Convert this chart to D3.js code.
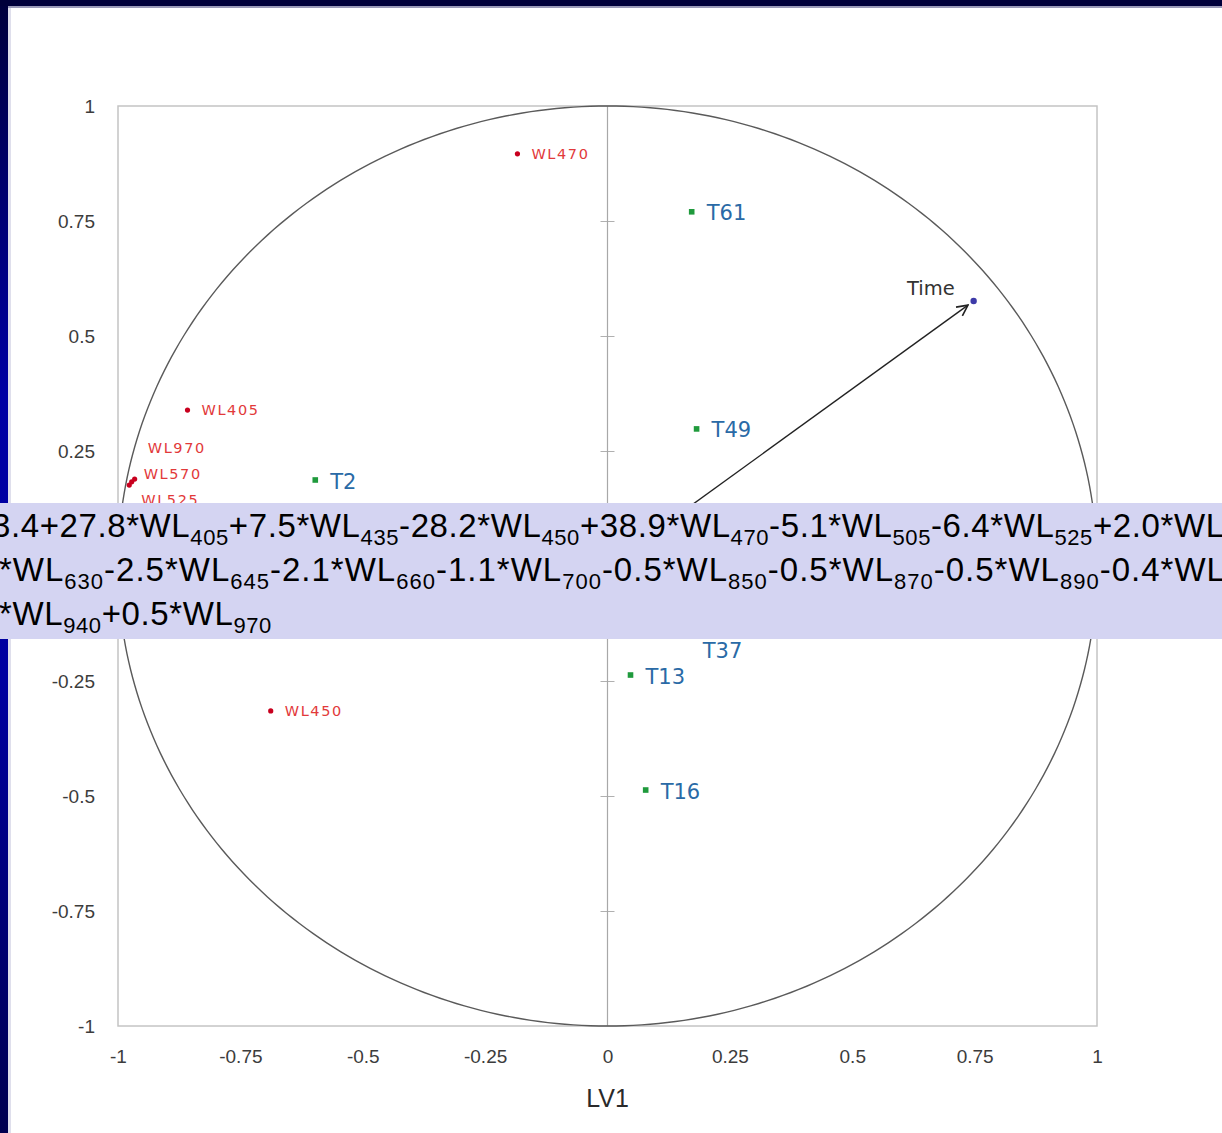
<!DOCTYPE html>
<html>
<head>
<meta charset="utf-8">
<script src="https://cdn.jsdelivr.net/npm/d3@7"></script>
<style>
  html, body { margin: 0; padding: 0; background: #fff; }
  svg { display: block; }
</style>
</head>
<body>
<svg id="chart" width="1222" height="1133"></svg>
<script>
// Loadings on LV1 / LV2 of the PLS model
const wlNames  = ["WL470", "WL405", "WL970", "WL570", "WL525", "WL450"];
const wlX      = [-0.184, -0.858, -0.972, -0.966, -0.977, -0.688];
const wlY      = [0.896, 0.339, 0.183, 0.189, 0.176, -0.315];

// Sample scores
const tNames   = ["T61", "T49", "T2", "T37", "T13", "T16"];
const tX       = [0.172, 0.182, -0.597, 0.170, 0.047, 0.078];
const tY       = [0.770, 0.298, 0.187, -0.130, -0.237, -0.487];

// Response variable
const respName = ["Time"];
const respX    = [0.748];
const respY    = [0.576];

const tickValues = [-1, -0.75, -0.5, -0.25, 0, 0.25, 0.5, 0.75, 1];
const xTitle = "LV1";

// Regression equation (banner)
const eqLines = [
  [["3.4+27.8*WL", "405"], ["+7.5*WL", "435"], ["-28.2*WL", "450"], ["+38.9*WL", "470"], ["-5.1*WL", "505"], ["-6.4*WL", "525"], ["+2.0*WL", ""]],
  [["*WL", "630"], ["-2.5*WL", "645"], ["-2.1*WL", "660"], ["-1.1*WL", "700"], ["-0.5*WL", "850"], ["-0.5*WL", "870"], ["-0.5*WL", "890"], ["-0.4*WL", ""]],
  [["*WL", "940"], ["+0.5*WL", "970"]]
];

const svg = d3.select("#chart");
const W = 1222, H = 1133;

// Slide frame: gradient bar on the left, dark band on top
const defs = svg.append("defs");
const grad = defs.append("linearGradient").attr("id", "sideGrad")
  .attr("x1", 0).attr("y1", 0).attr("x2", 0).attr("y2", 1);
grad.append("stop").attr("offset", "0%").attr("stop-color", "#00003c");
grad.append("stop").attr("offset", "35%").attr("stop-color", "#0000a4");
grad.append("stop").attr("offset", "60%").attr("stop-color", "#0000a0");
grad.append("stop").attr("offset", "100%").attr("stop-color", "#000050");

svg.append("rect").attr("width", W).attr("height", H).attr("fill", "#fff");
svg.append("rect").attr("x", 0).attr("y", 0).attr("width", 8).attr("height", H).attr("fill", "url(#sideGrad)");
svg.append("rect").attr("x", 8).attr("y", 0).attr("width", 3).attr("height", H).attr("fill", "#c9c9e0").attr("opacity", 0.6);
svg.append("rect").attr("x", 0).attr("y", 0).attr("width", W).attr("height", 6).attr("fill", "#00003a");
svg.append("rect").attr("x", 8).attr("y", 6).attr("width", W).attr("height", 2).attr("fill", "#9a9ab8");

const x = d3.scaleLinear().domain([-1, 1]).range([118, 1097]);
const y = d3.scaleLinear().domain([-1, 1]).range([1026, 106]);

const g = svg.append("g");

// plot frame
g.append("rect")
  .attr("x", x(-1)).attr("y", y(1))
  .attr("width", x(1) - x(-1)).attr("height", y(-1) - y(1))
  .attr("fill", "none").attr("stroke", "#c4c4c4").attr("stroke-width", 1.5);

// outer tick labels
const fmt = d => String(d);
const yAxis = g.append("g").attr("transform", `translate(${x(-1)},0)`)
  .call(d3.axisLeft(y).tickValues(tickValues.filter(v => v !== 0)).tickSize(0).tickPadding(23).tickFormat(fmt));
const xAxis = g.append("g").attr("transform", `translate(0,${y(-1)})`)
  .call(d3.axisBottom(x).tickValues(tickValues).tickSize(0).tickPadding(24).tickFormat(fmt));
[yAxis, xAxis].forEach(a => {
  a.select(".domain").remove();
  a.selectAll("text").attr("font-family", "Liberation Sans, Arial, sans-serif")
    .attr("font-size", 19).attr("fill", "#3c3c3c");
});

// axes through the origin with crossing ticks
const inner = tickValues.filter(v => v !== 0 && Math.abs(v) !== 1);
[d3.axisLeft, d3.axisRight].forEach(ax => {
  const a = g.append("g").attr("transform", `translate(${x(0)},0)`)
    .call(ax(y).tickValues(inner).tickSize(7).tickFormat(""));
  a.select(".domain").remove();
  a.selectAll("text").remove();
  a.selectAll("line").attr("stroke", "#b0b0b0");
});
[d3.axisTop, d3.axisBottom].forEach(ax => {
  const a = g.append("g").attr("transform", `translate(0,${y(0)})`)
    .call(ax(x).tickValues(inner).tickSize(7).tickFormat(""));
  a.select(".domain").remove();
  a.selectAll("text").remove();
  a.selectAll("line").attr("stroke", "#b0b0b0");
});
g.append("line").attr("x1", x(0)).attr("x2", x(0)).attr("y1", y(1)).attr("y2", y(-1))
  .attr("stroke", "#a8a8a8").attr("stroke-width", 1.2);
g.append("line").attr("x1", x(-1)).attr("x2", x(1)).attr("y1", y(0)).attr("y2", y(0))
  .attr("stroke", "#a8a8a8").attr("stroke-width", 1.2);

// correlation circle (unit circle in data space)
const angles = d3.range(0, 361, 1).map(a => a * Math.PI / 180);
g.append("path")
  .datum(angles)
  .attr("d", d3.line().x(a => x(Math.cos(a))).y(a => y(Math.sin(a))))
  .attr("fill", "none").attr("stroke", "#5a5a5a").attr("stroke-width", 1.4);

// arrow from origin to the response loading
defs.append("marker").attr("id", "arrowHead")
  .attr("viewBox", "0 0 12 12").attr("refX", 11).attr("refY", 6)
  .attr("markerWidth", 13).attr("markerHeight", 13).attr("markerUnits", "userSpaceOnUse")
  .attr("orient", "auto")
  .append("path").attr("d", "M1,1 L11,6 L1,11").attr("fill", "none")
  .attr("stroke", "#222").attr("stroke-width", 1.5);

const rx0 = x(0), ry0 = y(0), rx1 = x(respX[0]), ry1 = y(respY[0]);
const len = Math.hypot(rx1 - rx0, ry1 - ry0), shrink = 7;
g.append("line")
  .attr("x1", rx0).attr("y1", ry0)
  .attr("x2", rx1 - (rx1 - rx0) / len * shrink).attr("y2", ry1 - (ry1 - ry0) / len * shrink)
  .attr("stroke", "#222").attr("stroke-width", 1.4).attr("marker-end", "url(#arrowHead)");

// label placement around crowded markers
const wlLabelOffset = { WL970: [16, -34], WL570: [9, -5], WL525: [12, 15] };
const tLabelOffset  = { T37: [12, 25] };

// wavelength loadings
const wl = wlNames.map((n, i) => ({ n, x: wlX[i], y: wlY[i] }));
g.selectAll("circle.wl").data(wl).join("circle").attr("class", "wl")
  .attr("cx", d => x(d.x)).attr("cy", d => y(d.y)).attr("r", 2.6).attr("fill", "#c8001e");
g.selectAll("text.wl").data(wl).join("text").attr("class", "wl")
  .attr("x", d => x(d.x) + (wlLabelOffset[d.n] ? wlLabelOffset[d.n][0] : 14))
  .attr("y", d => y(d.y) + (wlLabelOffset[d.n] ? wlLabelOffset[d.n][1] : 0))
  .attr("dy", "0.36em")
  .attr("font-family", "DejaVu Sans, Verdana, sans-serif").attr("font-size", 14.5)
  .attr("letter-spacing", 1.6).attr("fill", "#e2393a")
  .text(d => d.n);

// sample scores
const ts = tNames.map((n, i) => ({ n, x: tX[i], y: tY[i] }));
g.selectAll("rect.t").data(ts).join("rect").attr("class", "t")
  .attr("x", d => x(d.x) - 2.8).attr("y", d => y(d.y) - 2.8).attr("width", 5.6).attr("height", 5.6)
  .attr("fill", "#1f9a3c");
g.selectAll("text.t").data(ts).join("text").attr("class", "t")
  .attr("x", d => x(d.x) + (tLabelOffset[d.n] ? tLabelOffset[d.n][0] : 15))
  .attr("y", d => y(d.y) + (tLabelOffset[d.n] ? tLabelOffset[d.n][1] : 1))
  .attr("dy", "0.36em")
  .attr("font-family", "DejaVu Sans, Verdana, sans-serif").attr("font-size", 21)
  .attr("fill", "#2a6aa6")
  .text(d => d.n);

// response loading
g.selectAll("circle.resp").data(respName).join("circle").attr("class", "resp")
  .attr("cx", (d, i) => x(respX[i])).attr("cy", (d, i) => y(respY[i])).attr("r", 3.2).attr("fill", "#3d3aa8");
g.selectAll("text.resp").data(respName).join("text").attr("class", "resp")
  .attr("x", (d, i) => x(respX[i]) - 19).attr("y", (d, i) => y(respY[i]) - 13)
  .attr("dy", "0.36em").attr("text-anchor", "end")
  .attr("font-family", "DejaVu Sans, Verdana, sans-serif").attr("font-size", 19.5)
  .attr("fill", "#333")
  .text(d => d);

// axis title
g.append("text").attr("x", x(0)).attr("y", 1107).attr("text-anchor", "middle")
  .attr("font-family", "Liberation Sans, Arial, sans-serif").attr("font-size", 25)
  .attr("fill", "#2a2a2a").text(xTitle);

// equation banner
const banner = svg.append("g");
banner.append("rect").attr("x", 0).attr("y", 503).attr("width", W).attr("height", 136).attr("fill", "#d4d4f2");
const lineY = [537, 581, 625];
const lineX = [-8, -1, -1];
const lineSpacing = [0.6, 1.0, 0.6];
const subShift = 8;
eqLines.forEach((segs, li) => {
  const t = banner.append("text").attr("x", lineX[li]).attr("y", lineY[li])
    .attr("font-family", "Liberation Sans, Arial, sans-serif").attr("font-size", 33)
    .attr("letter-spacing", lineSpacing[li]).attr("fill", "#000");
  let lowered = false;
  segs.forEach(([main, sub]) => {
    t.append("tspan").attr("dy", lowered ? -subShift : 0).text(main);
    lowered = false;
    if (sub) {
      t.append("tspan").attr("font-size", 22).attr("dy", subShift).text(sub);
      lowered = true;
    }
  });
});
</script>
</body>
</html>
